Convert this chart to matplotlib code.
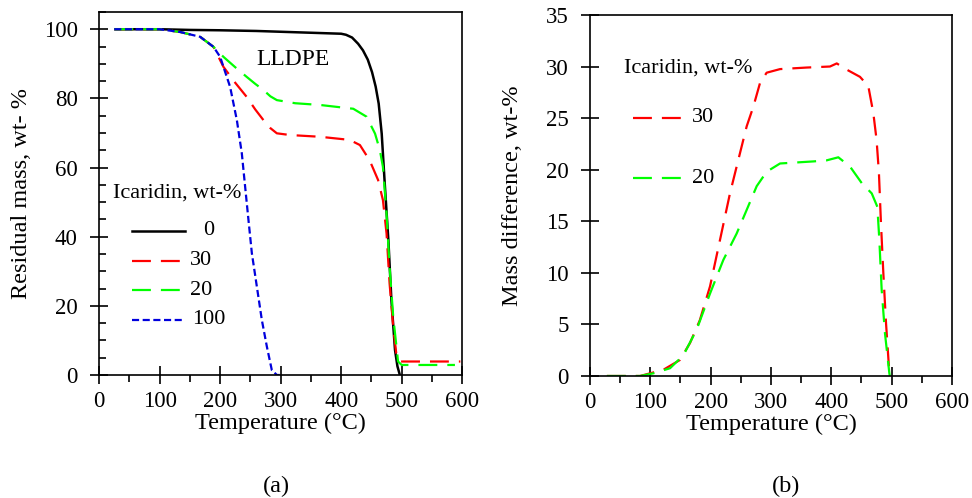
import matplotlib
matplotlib.use('Agg')
import matplotlib.pyplot as plt
from matplotlib.ticker import MultipleLocator

plt.rcParams['font.family'] = ['Liberation Serif', 'DejaVu Serif']
plt.rcParams['mathtext.fontset'] = 'stix'

# (a) 殘留質量 TGA 曲線
t_0 = [25, 100, 150, 200, 260, 330, 400, 408, 418, 428, 436, 444, 451, 457,
       462, 467, 472, 478, 483, 489, 493, 497]
m_0 = [100, 100, 99.8, 99.7, 99.5, 99.1, 98.7, 98.4, 97.6, 95.8, 93.9, 91.2,
       87.6, 83.4, 78.5, 69.8, 55.4, 39, 21.7, 7.2, 2.5, 0]

t_30 = [25, 100, 134, 167, 189, 205.5, 225, 244, 258, 271.6, 283, 293.7,
        315.7, 365, 414, 431, 447, 461, 469, 475, 480, 486, 491, 497, 540, 597]
m_30 = [100, 100, 99.2, 97.8, 94.9, 89.1, 84.5, 80.4, 76.8, 73.7, 71.4, 69.9,
        69.4, 68.9, 68, 66.5, 62.1, 56.4, 50.6, 40.9, 26.5, 14, 6.3, 3.9, 3.9, 3.9]

t_20 = [25, 100, 134, 167, 189, 205.5, 225, 244, 258, 271.6, 283, 293.7,
        324, 365, 420, 442, 456, 464, 469, 475, 480, 486, 494, 500, 540, 588]
m_20 = [100, 100, 99.2, 97.8, 94.9, 92, 89, 86.2, 84.2, 82.4, 80.6, 79.5,
        78.6, 78.1, 77, 74.7, 69.8, 65, 60.2, 46.7, 31.3, 16.9, 3.9, 2.9, 2.9, 2.9]

t_100 = [25, 100, 134, 167, 189, 200, 216.5, 227.6, 235.8, 241.3, 246.8, 252.4,
         260.7, 268.9, 277.2, 285.4, 293.7, 298.3]
m_100 = [100, 100, 99.2, 97.8, 94.9, 92, 83.3, 73.7, 64.1, 54.4, 44.8, 35.2,
         25.5, 15.9, 8.2, 1.4, 0, 0]

# (b) 質量差
td_30 = [28, 83, 121.5, 149, 165.8, 182, 199, 215.5, 232, 248.6, 259.7, 270.7,
         281.8, 292.8, 315, 359, 397.8, 409, 425.5, 447.5, 461.3, 469.6, 475,
         478.9, 482.3, 486.2, 490.7, 496.2, 497]
d_30 = [0, 0, 0.6, 1.55, 3.2, 5.4, 8.7, 13.2, 17.7, 21.6, 24.2, 26.1, 28.4,
        29.4, 29.75, 29.9, 30.0, 30.3, 29.7, 29.0, 28.1, 25.5, 22.9, 19.7, 14.8,
        10, 5.1, 0.26, 0]

td_20 = [28, 83, 105, 132.6, 154.7, 176.8, 199, 221, 243, 259.7, 276.3, 292.8,
         315, 370, 392, 411.6, 431, 450.4, 467, 476.3, 479.6, 483.5, 489, 496.2, 497]
d_20 = [0, 0, 0.26, 0.75, 2.0, 4.5, 8.0, 11.25, 13.8, 16.1, 18.4, 19.8, 20.6,
        20.8, 20.9, 21.2, 20.3, 18.7, 17.7, 16.4, 13.2, 8.3, 4.1, 0.26, 0]

legend_a = ['0', '30', '20', '100']
legend_b = ['30', '20']

RED = '#ff0000'
GREEN = '#00ff00'
BLUE = '#0000dd'
LONG = (0, (8.5, 4.5))
SHORT = (0, (3.2, 1.6))

FS_TICK = 16.5
FS_LABEL = 17.5
FS_TEXT = 16

fig = plt.figure(figsize=(9.72, 4.98), dpi=100)
ax1 = fig.add_axes([0.102, 0.247, 0.3735, 0.729])
ax2 = fig.add_axes([0.607, 0.245, 0.3724, 0.725])


def style_axis(ax):
    ax.tick_params(axis='both', which='major', direction='inout', length=13,
                   width=1.2, labelsize=FS_TICK)
    ax.tick_params(axis='y', which='major', pad=9)
    ax.tick_params(axis='x', which='major', pad=5)
    ax.tick_params(axis='x', which='minor', direction='out', length=5, width=1.2)
    ax.tick_params(axis='y', which='minor', direction='in', length=5, width=1.2)
    for s in ax.spines.values():
        s.set_linewidth(1.2)
    ax.set_xlim(0, 600)
    ax.xaxis.set_major_locator(MultipleLocator(100))
    ax.xaxis.set_minor_locator(MultipleLocator(50))
    ax.set_xlabel('Temperature (°C)', fontsize=FS_LABEL)
    ax.xaxis.set_label_coords(0.5, -0.105)


# 左圖
ax1.plot(t_0, m_0, color='black', lw=1.8, solid_capstyle='butt')
ax1.plot(t_30, m_30, color=RED, lw=1.6, linestyle=LONG)
ax1.plot(t_20, m_20, color=GREEN, lw=1.6, linestyle=LONG)
ax1.plot(t_100, m_100, color=BLUE, lw=1.6, linestyle=SHORT)
style_axis(ax1)
ax1.set_ylim(0, 105)
ax1.yaxis.set_major_locator(MultipleLocator(20))
ax1.yaxis.set_minor_locator(MultipleLocator(5))
ax1.set_ylabel('Residual mass, wt- %', fontsize=FS_LABEL)
ax1.yaxis.set_label_coords(-0.185, 0.5)
ax1.text(0.534, 0.868, 'LLDPE', transform=ax1.transAxes, fontsize=17,
         ha='center', va='center')

# 手動圖例
ax1.text(0.037, 0.501, 'Icaridin, wt-%', transform=ax1.transAxes, fontsize=FS_TEXT,
         ha='left', va='center')
rows_a = [0.397, 0.314, 0.234, 0.152]
styles_a = [('black', '-'), (RED, LONG), (GREEN, LONG), (BLUE, SHORT)]
label_x_a = [0.286, 0.251, 0.251, 0.255]
for lab, yy, (c, ls), lx in zip(legend_a, rows_a, styles_a, label_x_a):
    ax1.plot([0.09, 0.237], [yy, yy], transform=ax1.transAxes, color=c,
             lw=1.8 if ls == '-' else 1.6, linestyle=ls)
    ax1.text(lx, yy, lab, transform=ax1.transAxes, fontsize=FS_TEXT,
             ha='left', va='center')

# 右圖
ax2.plot(td_30, d_30, color=RED, lw=1.6, linestyle=LONG)
ax2.plot(td_20, d_20, color=GREEN, lw=1.6, linestyle=LONG)
style_axis(ax2)
ax2.set_ylim(0, 35)
ax2.yaxis.set_major_locator(MultipleLocator(5))
ax2.set_ylabel('Mass difference, wt-%', fontsize=FS_LABEL)
ax2.yaxis.set_label_coords(-0.185, 0.5)

ax2.text(0.094, 0.853, 'Icaridin, wt-%', transform=ax2.transAxes, fontsize=FS_TEXT,
         ha='left', va='center')
rows_b = [0.715, 0.548]
for lab, yy, c in zip(legend_b, rows_b, [RED, GREEN]):
    ax2.plot([0.119, 0.271], [yy, yy], transform=ax2.transAxes, color=c,
             lw=1.6, linestyle=LONG)
    ax2.text(0.282, yy, lab, transform=ax2.transAxes, fontsize=FS_TEXT,
             ha='left', va='center')

fig.text(276 / 972, 1 - 486 / 498, '(a)', fontsize=FS_LABEL, ha='center', va='center')
fig.text(786 / 972, 1 - 486 / 498, '(b)', fontsize=FS_LABEL, ha='center', va='center')

fig.savefig('out.png', dpi=100)
